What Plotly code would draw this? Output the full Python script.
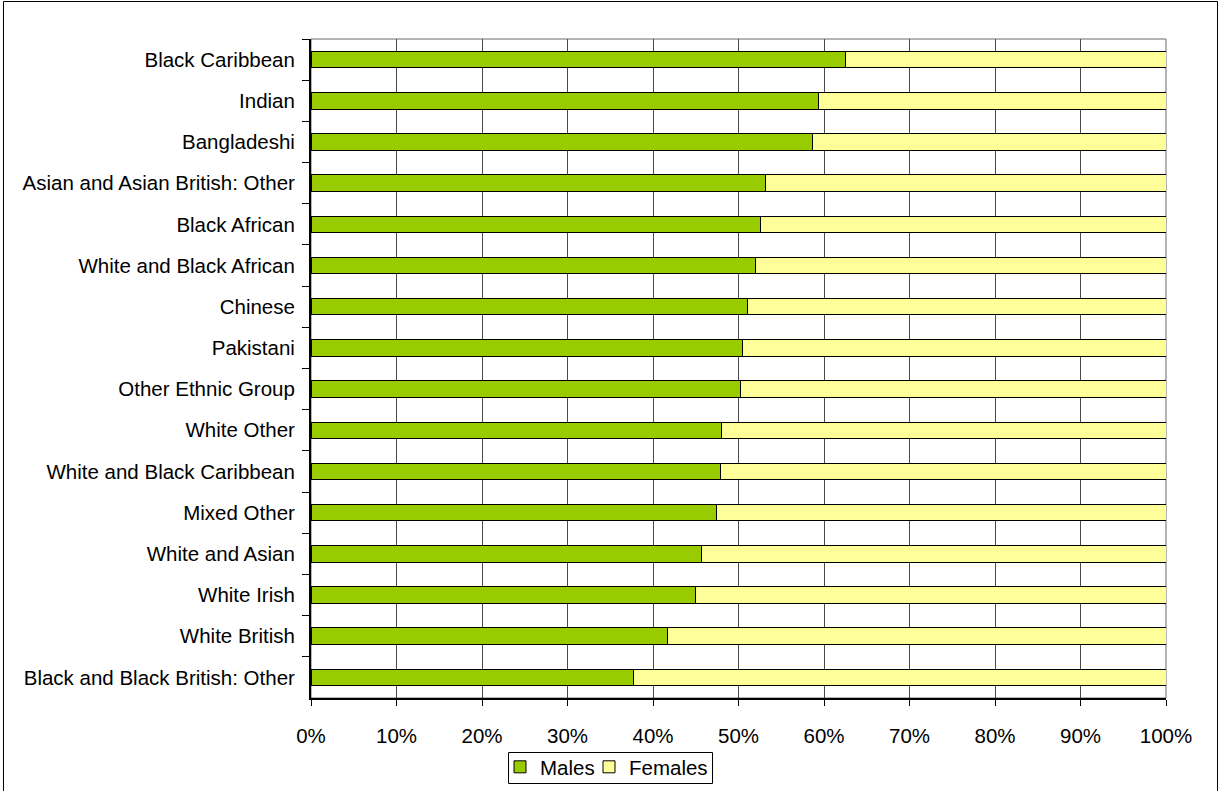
import plotly.graph_objects as go

categories = [
    "Black Caribbean", "Indian", "Bangladeshi", "Asian and Asian British: Other",
    "Black African", "White and Black African", "Chinese", "Pakistani",
    "Other Ethnic Group", "White Other", "White and Black Caribbean", "Mixed Other",
    "White and Asian", "White Irish", "White British", "Black and Black British: Other",
]
males = [62.55, 59.37, 58.66, 53.11, 52.53, 51.99, 51.05, 50.51,
         50.29, 48.0, 47.9, 47.4, 45.7, 45.0, 41.7, 37.7]
females = [37.45, 40.63, 41.34, 46.89, 47.47, 48.01, 48.95, 49.49,
           49.71, 52.0, 52.1, 52.6, 54.3, 55.0, 58.3, 62.3]
x_ticks = [0, 10, 20, 30, 40, 50, 60, 70, 80, 90, 100]
x_tick_labels = ["0%", "10%", "20%", "30%", "40%", "50%", "60%", "70%", "80%", "90%", "100%"]

FONT = "Liberation Sans, Arial, sans-serif"
FS = 20.5
W, H = 1219, 791
L, R, T, B = 311, 53, 39, 93
pw, ph = W - L - R, H - T - B

def px_x(p):
    return (p - L) / pw

def px_y(p):
    return (H - B - p) / ph

fig = go.Figure()
fig.add_trace(go.Bar(
    y=categories, x=males, name="Males", orientation="h", legendwidth=44,
    marker=dict(color="#99CC00", line=dict(color="black", width=1)),
))
fig.add_trace(go.Bar(
    y=categories, x=females, name="Females", orientation="h",
    marker=dict(color="#FFFF99", line=dict(color="black", width=1)),
))

fig.update_layout(
    width=W, height=H,
    barmode="stack", bargap=0.6,
    margin=dict(l=L, r=R, t=T, b=B, autoexpand=False),
    paper_bgcolor="white", plot_bgcolor="white",
    font=dict(family=FONT, size=FS, color="black"),
    showlegend=True,
    legend=dict(
        orientation="h", traceorder="normal",
        xref="container", yref="container",
        x=500 / W, xanchor="left", y=1 - 747 / H, yanchor="top",
        borderwidth=0, bgcolor="rgba(0,0,0,0)",
        font=dict(family=FONT, size=FS, color="black"),
        itemwidth=30, tracegroupgap=0,
    ),
    xaxis=dict(
        range=[0, 100], tickmode="array", tickvals=x_ticks, ticktext=x_tick_labels,
        showgrid=True, gridcolor="#4a4a4a", gridwidth=1,
        showline=True, linecolor="black", linewidth=2,
        ticks="outside", ticklen=6, tickcolor="black", tickwidth=1,
        ticklabelstandoff=12, zeroline=False,
        tickfont=dict(family=FONT, size=FS, color="black"),
    ),
    yaxis=dict(
        autorange="reversed", type="category",
        showgrid=False, showline=True, linecolor="black", linewidth=2,
        ticks="outside", ticklen=7, tickcolor="black", tickwidth=1,
        tickson="boundaries", ticklabelstandoff=10,
        tickfont=dict(family=FONT, size=FS, color="black"),
    ),
    shapes=[
        dict(type="rect", xref="paper", yref="paper", x0=0, x1=1, y0=0, y1=1,
             line=dict(color="#6a6a6a", width=1), layer="below"),
        dict(type="rect", xref="paper", yref="paper",
             x0=px_x(3.5), x1=px_x(1217.5), y0=px_y(794), y1=px_y(1.5),
             line=dict(color="black", width=1)),
        # legend frame
        dict(type="rect", xref="paper", yref="paper",
             x0=px_x(508.5), x1=px_x(712.5), y0=px_y(783.5), y1=px_y(752.5),
             line=dict(color="black", width=1)),
    ],
)

fig.write_html("out.html", config={"displayModeBar": False},
               post_script="document.body.style.margin='0';")
